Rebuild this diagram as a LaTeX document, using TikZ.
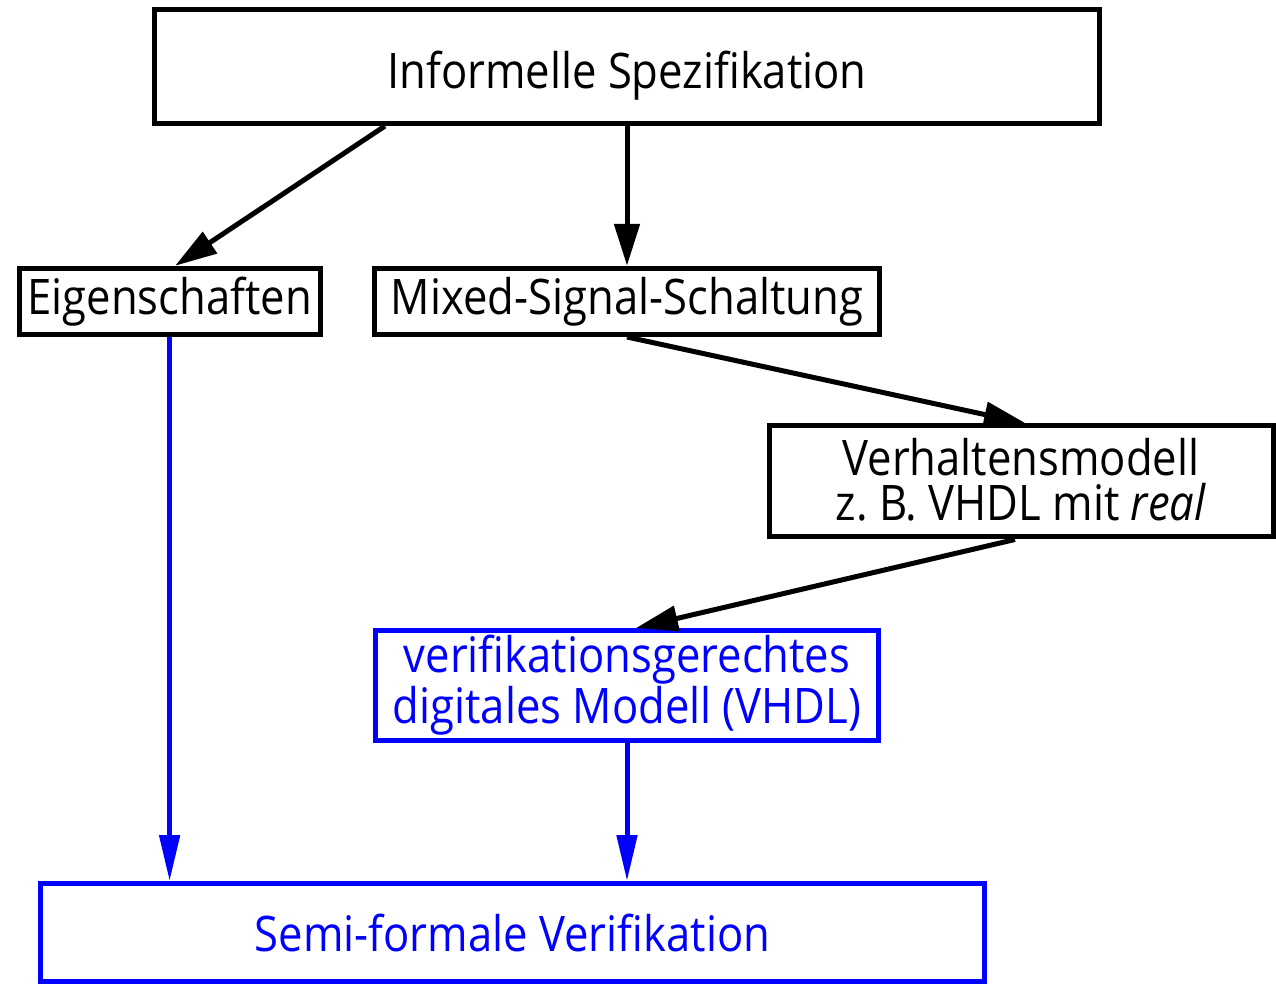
\documentclass[tikz,border=0pt]{standalone}
\usepackage{fontspec}
\setmainfont{Open Sans}[FakeStretch=0.89]
\usetikzlibrary{arrows.meta}
\begin{document}
\begin{tikzpicture}[x=0.5pt,y=-0.5pt,
  box/.style={draw=black, line width=2.5pt, inner sep=0pt, align=center,
    font=\fontsize{24.5pt}{22.5pt}\selectfont},
  bluebox/.style={box, draw=blue, text=blue},
  karrow/.style={draw=black, line width=2.5pt, -{Triangle[length=21pt,width=12.5pt]}},
  barrow/.style={draw=blue, line width=2.5pt, -{Triangle[length=23pt,width=10pt]}}]
\useasboundingbox (0,0) rectangle (1276,984);
\node[box, minimum width=472.5pt, minimum height=57pt, text height=24pt, text depth=2.3pt]
  (top) at (627,66.5) {Informelle Spezifikation};
\node[box, minimum width=150.4pt, minimum height=33.1pt] (eig) at (169.6,301.4) {Eigenschaften};
\node[box, minimum width=252.5pt, minimum height=33.1pt] (mix) at (627,301.4) {Mixed-Signal-Schaltung};
\node[box, minimum width=252pt, minimum height=55.5pt, text depth=2.5pt] (verh) at (1021,481.5)
  {Verhaltensmodell\\z.\ B. VHDL mit \textit{real}};
\node[bluebox, minimum width=251.5pt, minimum height=55pt] (ver) at (627,685.5)
  {verifikationsgerechtes\\digitales Modell (VHDL)};
\node[bluebox, minimum width=472pt, minimum height=49pt] (semi) at (512.5,932.5)
  {Semi-formale Verifikation};
\draw[karrow] ([xshift=-121pt]top.south) -- ([xshift=2.75pt]eig.north);
\draw[karrow] (top.south) -- (mix.north);
\draw[karrow] (mix.south) -- ([xshift=2.5pt]verh.north);
\draw[karrow] ([xshift=-3pt]verh.south) -- ([xshift=4.5pt]ver.north);
\draw[barrow] (eig.south) -- (eig.south |- semi.north);
\draw[barrow] (ver.south) -- (ver.south |- semi.north);
\end{tikzpicture}
\end{document}
